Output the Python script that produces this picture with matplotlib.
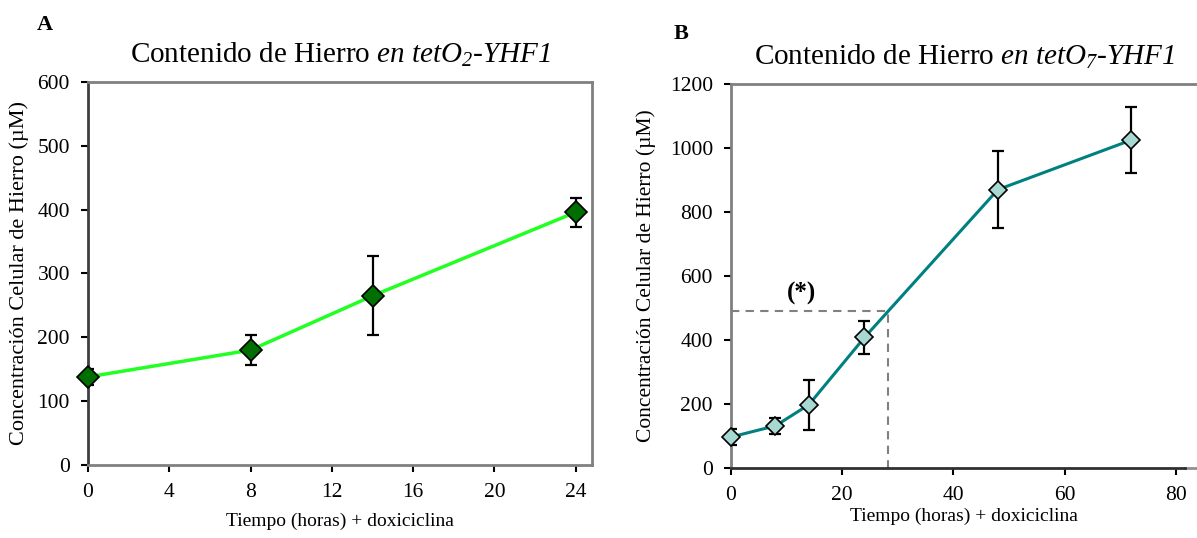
import matplotlib
matplotlib.use('Agg')
from matplotlib import pyplot as plt

plt.rcParams['font.family'] = ['Liberation Serif', 'DejaVu Serif']
plt.rcParams['mathtext.fontset'] = 'custom'
plt.rcParams['mathtext.rm'] = 'Liberation Serif'
plt.rcParams['mathtext.it'] = 'Liberation Serif:italic'
plt.rcParams['mathtext.sf'] = 'Liberation Serif:italic'

# panel A data (tetO2)
horas_a = [0, 8, 14, 24]
hierro_a = [138, 180, 265, 396]
err_a = [12, 23, 62, 23]
ticks_a = [0, 4, 8, 12, 16, 20, 24]

# panel B data (tetO7)
horas_b = [0, 8, 14, 24, 48, 72]
hierro_b = [97, 132, 198, 408, 870, 1025]
err_b = [25, 25, 78, 53, 121, 103]
ticks_b = [0, 20, 40, 60, 80]

# dashed reference for (*)
ref_x = 28.2
ref_y = 490

ylab = 'Concentración Celular de Hierro (µM)'
xlab = 'Tiempo (horas) + doxiciclina'

fig = plt.figure(figsize=(11.97, 5.38), dpi=100)

# ---- panel A
ax1 = fig.add_axes([0.0735, 0.1357, 0.4211, 0.7119])
ax1.plot(horas_a, hierro_a, color='#22ff22', lw=2.5, zorder=2)
ax1.errorbar(horas_a, hierro_a, yerr=err_a, fmt='none', ecolor='black',
             elinewidth=1.6, capsize=4, capthick=1.6, zorder=3)
ax1.plot(horas_a, hierro_a, 'D', ms=11, mfc='#006e00', mec='black', mew=1.2,
         ls='none', zorder=4, clip_on=False)
ax1.set_xlim(0, 24.8)
ax1.set_ylim(0, 600)
ax1.set_xticks(ticks_a)
ax1.set_yticks(range(0, 601, 100))
for s in ['top', 'right', 'bottom']:
    ax1.spines[s].set_color('#808080')
    ax1.spines[s].set_linewidth(2)
ax1.spines['left'].set_color('#404040')
ax1.spines['left'].set_linewidth(2)
ax1.tick_params(direction='out', length=5, width=1.5, labelsize=15.5, pad=8)
ax1.set_xlabel(xlab, fontsize=14, labelpad=8)
ax1.set_ylabel(ylab, fontsize=16, labelpad=6)
ax1.set_title(r'Contenido de Hierro $\mathsf{en\ tetO_2}$-$\mathsf{YHF1}$',
              fontsize=21, pad=14)
fig.text(0.031, 0.945, 'A', fontsize=16, fontweight='bold')

# ---- panel B
ax2 = fig.add_axes([0.6107, 0.130, 0.3893, 0.7139])
ax2.plot([0, ref_x, ref_x], [ref_y, ref_y, 0], ls=(0, (4, 3)), color='#808080',
         lw=1.5, zorder=1)
ax2.plot(horas_b, hierro_b, color='#008080', lw=2.2, zorder=2)
ax2.errorbar(horas_b, hierro_b, yerr=err_b, fmt='none', ecolor='black',
             elinewidth=1.6, capsize=4, capthick=1.6, zorder=3)
ax2.plot(horas_b, hierro_b, 'D', ms=9.5, mfc='#a8d8d2', mec='black', mew=1.2,
         ls='none', zorder=4, clip_on=False)
ax2.text(12.7, ref_y + 20, '(*)', fontsize=18, fontweight='bold',
         ha='center', va='bottom')
ax2.set_xlim(0, 83.8)
ax2.set_ylim(0, 1200)
ax2.set_xticks(ticks_b)
ax2.set_yticks(range(0, 1201, 200))
ax2.spines['top'].set_color('#808080')
ax2.spines['top'].set_linewidth(2)
ax2.spines['right'].set_visible(False)
ax2.spines['left'].set_color('#808080')
ax2.spines['left'].set_linewidth(2)
ax2.spines['bottom'].set_color('#303030')
ax2.spines['bottom'].set_linewidth(2)
ax2.spines['bottom'].set_bounds(0, 81.6)
ax2.plot([81.6, 83.8], [0, 0], color='#909090', lw=2, clip_on=False)
ax2.tick_params(direction='out', length=5, width=1.5, labelsize=15.5, pad=8)
ax2.set_xlabel(xlab, fontsize=14, labelpad=2)
ax2.set_ylabel(ylab, fontsize=15.5, labelpad=10)
ax2.set_title(r'Contenido de Hierro $\mathsf{en\ tetO_7}$-$\mathsf{YHF1}$',
              fontsize=21, pad=14)
fig.text(0.563, 0.928, 'B', fontsize=16, fontweight='bold')

plt.savefig('out.png', dpi=100)
